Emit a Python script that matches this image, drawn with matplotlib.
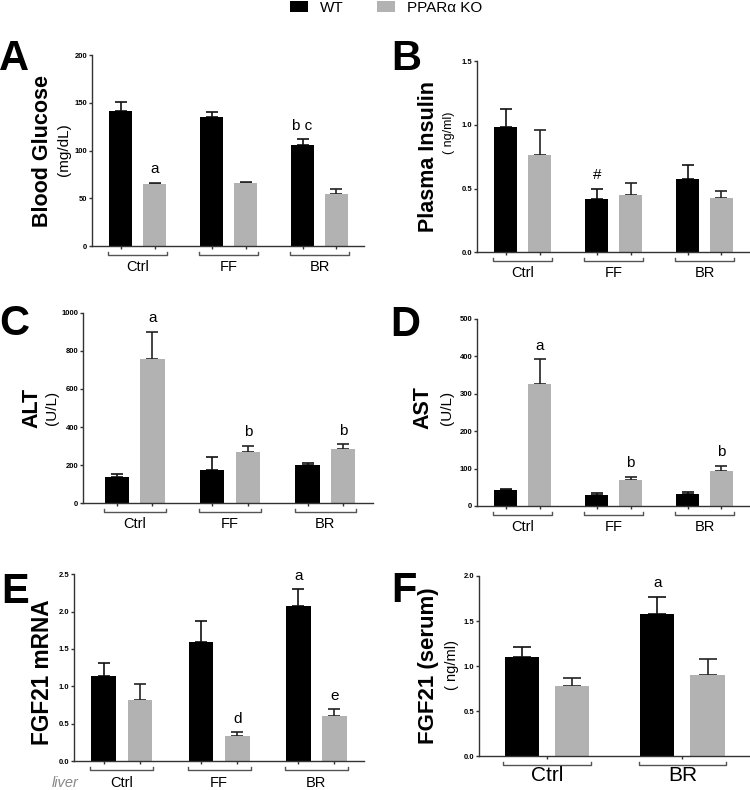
import matplotlib
matplotlib.use("Agg")
import matplotlib.pyplot as plt
from matplotlib.patches import Patch
from matplotlib.ticker import FormatStrFormatter

plt.rcParams['font.family'] = ['Liberation Sans', 'DejaVu Sans']

# ---- data ----
groups3 = ['Ctrl', 'FF', 'BR']
groups2 = ['Ctrl', 'BR']

glucose_wt = [141.5, 135.5, 106.3]
glucose_wt_err = [9.0, 5.3, 5.5]
glucose_ko = [64.8, 65.9, 55.0]
glucose_ko_err = [1.7, 1.0, 5.3]
glucose_marks_wt = ['', '', 'b c']
glucose_marks_ko = ['a', '', '']

insulin_wt = [0.985, 0.418, 0.572]
insulin_wt_err = [0.139, 0.081, 0.110]
insulin_ko = [0.763, 0.449, 0.428]
insulin_ko_err = [0.196, 0.092, 0.053]
insulin_marks_wt = ['', '#', '']
insulin_marks_ko = ['', '', '']

alt_wt = [140, 173, 199]
alt_wt_err = [14, 68, 12]
alt_ko = [757, 271, 283]
alt_ko_err = [142, 31, 26]
alt_marks_wt = ['', '', '']
alt_marks_ko = ['a', 'b', 'b']

ast_wt = [42.8, 28.5, 31.0]
ast_wt_err = [1.8, 5.5, 7.0]
ast_ko = [326, 69.5, 94.5]
ast_ko_err = [66, 8.5, 12.5]
ast_marks_wt = ['', '', '']
ast_marks_ko = ['a', 'b', 'b']

mrna_wt = [1.138, 1.598, 2.076]
mrna_wt_err = [0.179, 0.281, 0.224]
mrna_ko = [0.817, 0.335, 0.603]
mrna_ko_err = [0.210, 0.049, 0.089]
mrna_marks_wt = ['', '', 'a']
mrna_marks_ko = ['', 'd', 'e']

serum_wt = [1.102, 1.575]
serum_wt_err = [0.107, 0.196]
serum_ko = [0.776, 0.902]
serum_ko_err = [0.093, 0.177]
serum_marks_wt = ['', 'a']
serum_marks_ko = ['', '']

WT_COLOR = '#000000'
KO_COLOR = '#b2b2b2'
AXIS_COLOR = '#333333'

W, H = 750, 790
fig = plt.figure(figsize=(W / 100, H / 100), dpi=100)


def add_axes_px(left, top, right, bottom):
    """Add axes given pixel box (origin top-left)"""
    return fig.add_axes([left / W, 1 - bottom / H, (right - left) / W, (bottom - top) / H])


def draw_panel(ax, groups, wt, wt_err, ko, ko_err, marks_wt, marks_ko,
               ylim, yticks, yfmt, xlim, cap=4.3, label_size=10.5,
               label_off=21, ticks_at_groups=False):
    width = 0.255
    off = 0.186
    xs = list(range(len(groups)))
    x_wt = [x - off for x in xs]
    x_ko = [x + off for x in xs]

    ax.bar(x_wt, wt, width, color=WT_COLOR, zorder=2)
    ax.bar(x_ko, ko, width, color=KO_COLOR, zorder=2)
    ax.errorbar(x_wt, wt, yerr=[[0] * len(wt), wt_err], fmt='none', ecolor='#111111',
                elinewidth=1.2, capsize=cap, capthick=1.2, zorder=1)
    ax.errorbar(x_ko, ko, yerr=[[0] * len(ko), ko_err], fmt='none', ecolor='#222222',
                elinewidth=1.2, capsize=cap, capthick=1.2, zorder=1)

    # significance letters
    for x, v, e, m in zip(x_wt + x_ko, wt + ko, wt_err + ko_err, marks_wt + marks_ko):
        if m:
            ax.annotate(m, (x, v + e), xytext=(0, 7), textcoords='offset points',
                        ha='center', va='baseline', fontsize=11)

    ax.set_xlim(*xlim)
    ax.set_ylim(*ylim)
    ax.set_yticks(yticks)
    ax.yaxis.set_major_formatter(FormatStrFormatter(yfmt))
    if ticks_at_groups:
        ax.set_xticks(xs)
    else:
        ax.set_xticks(sorted(x_wt + x_ko))
    ax.set_xticklabels([])

    for s in ['top', 'right']:
        ax.spines[s].set_visible(False)
    for s in ['left', 'bottom']:
        ax.spines[s].set_color(AXIS_COLOR)
        ax.spines[s].set_linewidth(1.0)
    ax.tick_params(axis='both', direction='out', length=2.5, width=1.0, color=AXIS_COLOR)
    ax.tick_params(axis='y', labelsize=5.5, pad=1)
    for lab in ax.get_yticklabels():
        lab.set_fontweight('bold')

    # group brackets and category names below the axis
    hpx = ax.bbox.height
    trans = ax.get_xaxis_transform()
    for x, name in zip(xs, groups):
        x0 = x - off - width / 2 - 0.01
        x1 = x + off + width / 2 + 0.01
        y0 = -8.5 / hpx
        y1 = -6.0 / hpx
        ax.plot([x0, x0, x1, x1], [y1, y0, y0, y1], transform=trans, color='#555555',
                lw=1.0, clip_on=False)
        ax.text(x, -label_off / hpx, name, transform=trans, ha='center', va='center',
                fontsize=label_size)


# ---- A: blood glucose ----
axA = add_axes_px(92.3, 55, 364, 246.3)
draw_panel(axA, groups3, glucose_wt, glucose_wt_err, glucose_ko, glucose_ko_err,
           glucose_marks_wt, glucose_marks_ko, (0, 200), [0, 50, 100, 150, 200], '%d',
           (-0.5, 2.49))

# ---- B: plasma insulin ----
axB = add_axes_px(477.3, 61, 750, 252.3)
draw_panel(axB, groups3, insulin_wt, insulin_wt_err, insulin_ko, insulin_ko_err,
           insulin_marks_wt, insulin_marks_ko, (0, 1.5), [0, 0.5, 1.0, 1.5], '%.1f',
           (-0.5, 2.5))

# ---- C: ALT ----
axC = add_axes_px(83.3, 312.7, 373, 503.3)
draw_panel(axC, groups3, alt_wt, alt_wt_err, alt_ko, alt_ko_err,
           alt_marks_wt, alt_marks_ko, (0, 1000), [0, 200, 400, 600, 800, 1000], '%d',
           (-0.54, 2.5))

# ---- D: AST ----
axD = add_axes_px(477.3, 319, 750, 506)
draw_panel(axD, groups3, ast_wt, ast_wt_err, ast_ko, ast_ko_err,
           ast_marks_wt, ast_marks_ko, (0, 500), [0, 100, 200, 300, 400, 500], '%d',
           (-0.5, 2.5))

# ---- E: liver FGF21 mRNA ----
axE = add_axes_px(74.3, 574.3, 364, 761)
draw_panel(axE, groups3, mrna_wt, mrna_wt_err, mrna_ko, mrna_ko_err,
           mrna_marks_wt, mrna_marks_ko, (0, 2.5), [0, 0.5, 1.0, 1.5, 2.0, 2.5], '%.1f',
           (-0.49, 2.49), label_off=22)

# ---- F: serum FGF21 ----
axF = add_axes_px(479.3, 576, 750, 756.3)
draw_panel(axF, groups2, serum_wt, serum_wt_err, serum_ko, serum_ko_err,
           serum_marks_wt, serum_marks_ko, (0, 2.0), [0, 0.5, 1.0, 1.5, 2.0], '%.1f',
           (-0.5, 1.5), cap=6.5, label_size=15, label_off=19, ticks_at_groups=True)

# ---- y labels (main title bold + unit line) ----
def ylab(x, y, s, size, bold=True):
    fig.text(x / W, 1 - y / H, s, rotation=90, ha='center', va='center', fontsize=size,
             fontweight='bold' if bold else 'normal')

ylab(42.5, 151, 'Blood Glucose', 15.5)
ylab(64, 150, '(mg/dL)', 11, bold=False)
ylab(429, 156, 'Plasma Insulin', 15.5)
ylab(449, 133, '( ng/ml)', 9, bold=False)
ylab(31.5, 408, 'ALT', 15.5)
ylab(52, 408, '(U/L)', 11, bold=False)
ylab(423, 407.5, 'AST', 15.5)
ylab(447, 407.5, '(U/L)', 11, bold=False)
ylab(43, 672, 'FGF21 mRNA', 16.3)
ylab(429, 666, 'FGF21 (serum)', 16)
ylab(452, 665, '( ng/ml)', 10.5, bold=False)

fig.text(65 / W, 1 - 783 / H, 'liver', ha='center', va='center', fontsize=10.5,
         style='italic', color='#888888')

# ---- panel letters ----
for letter, x, y in [('A', 13.5, 70), ('B', 406, 70), ('C', 14.5, 335),
                     ('D', 405, 336), ('E', 15.5, 603), ('F', 404, 602)]:
    fig.text(x / W, 1 - y / H, letter, ha='center', va='baseline', fontsize=30,
             fontweight='bold')

# ---- legend ----
handles = [Patch(facecolor=WT_COLOR), Patch(facecolor=KO_COLOR)]
fig.legend(handles, ['WT', 'PPARα KO'], loc='upper left', bbox_to_anchor=(287 / W, 1.003),
           ncol=2, frameon=False, fontsize=11, handlelength=1.15, handleheight=0.75,
           handletextpad=0.8, columnspacing=2.2, borderaxespad=0, borderpad=0.2)

fig.savefig('out.png', dpi=100)
